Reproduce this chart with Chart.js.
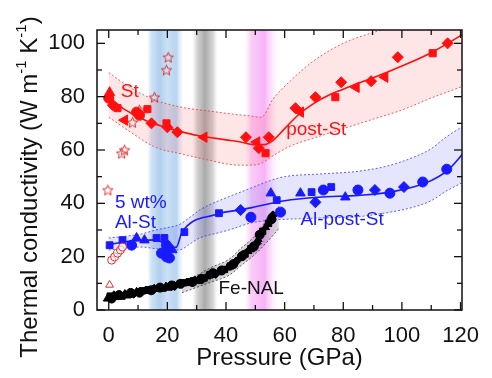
<!DOCTYPE html>
<html><head><meta charset="utf-8">
<script src="https://cdn.jsdelivr.net/npm/chart.js@4.4.1/dist/chart.umd.min.js"></script>
<style>html,body{margin:0;padding:0;background:#fff;}#wrap{width:492px;height:378px;}</style>
</head><body><div id="wrap"><canvas id="c" width="492" height="378"></canvas></div>
<script>
// ---------- axes ----------
const xMajorTicks=[0,20,40,60,80,100,120];
const xMinorTicks=[10,30,50,70,90,110];
const yMajorTicks=[0,20,40,60,80,100];
const yMinorTicks=[10,30,50,70,90];
const xRange=[-4,120.5];
const yRange=[0,105];

// ---------- vertical transition bands (center, half width in GPa) ----------
const bandCenters=[19.3,32.8,52];
const bandHalfWidths=[6.2,4.3,5.6];

// ---------- St / post-St (red) ----------
const redTriUp=[[0.3,81.5]];
const redCircle=[[0,79.4],[9.5,74.2],[10.5,73]];
const redSquare=[[3,75.7],[13.2,75.3],[19.7,70],[53.5,58.8],[77.3,79.8],[110.5,96.3]];
const redLeftTri=[[5.4,71.2],[32.5,64.8],[50.5,63],[65.4,74.2],[84.4,83.5],[94.2,87.3]];
const redDiamond=[[1.4,76.8],[14.6,70],[20,68.5],[23.4,66.7],[46.8,64.8],[51.2,60.7],[54.6,64.8],[63.7,75.7],[70.5,79.8],[79.3,85.4],[89.5,85.8],[98.6,94.8],[115.6,100]];
const redOpenStar=[[20.3,94.8],[19.7,90],[15.6,79.8],[10.5,75],[8.1,70.4],[4.4,58.8],[5.4,60],[-0.3,45]];
const redOpenCircle=[[1,18.7],[2,19.9],[3,21.3],[4,22.5],[4.7,23.6]];
const redOpenTri=[[0.3,9.4]];
const redFit=[[0,80],[5,75.5],[10,72.5],[15,70],[20,68.3],[25,66.8],[30,65.5],[35,64.6],[40,63.8],[45,63],[50,62],[53,62],[56,63.5],[60,68],[65,73.5],[70,77.5],[75,80.5],[80,82.8],[85,85],[90,87],[100,91.5],[110,96.5],[121,103.5]];
const redBandP=[0,8,16,25,35,42,48,52,56,62,70,80,90,100,110,121];
const redBandHi=[89,83,78.7,76,74.5,73.5,72.8,72.3,79,86,93.5,100,104,107,110,113];
const redBandLo=[72.3,66.3,61,58.5,56,54.5,54.3,55,57.8,61.5,64.5,68,71.5,75,79.5,84];

// ---------- Al-St / Al-post-St (blue) ----------
const blueSquare=[[0.3,24.3],[4.7,26.2],[16.3,27],[19,27],[25.8,29.2],[37.6,36.3],[57.3,41.2],[69.2,44.2],[75.9,46.1]];
const blueCircle=[[7.8,24.3],[19.7,24.3],[18,21.3],[19.7,19.9],[20.7,19.5],[48.5,34.8],[58.6,36.7],[73.2,45],[85,45],[95.9,43.8],[107.1,48],[115.3,52.8]];
const blueTri=[[9.5,27],[12.2,26.2],[21.7,22.5],[55.3,43.8],[65.4,43.8],[80.7,42.3]];
const blueDiamond=[[20,23],[45,37.5],[70.5,40.4],[90.8,45],[100.7,46.1]];
const blueFitSt=[[0,24.5],[5,25.5],[10,26],[16,26.3],[19,25],[23,23.5],[25,29.2],[37.6,36.3]];
const blueFitPost=[[37.6,36.3],[48.8,38.4],[60,41],[71.5,42.3],[85,43],[96,44.2],[108,47.6],[115.6,52.4],[121,58.8]];
const blueBandP=[0,11,16,20.5,24,28,31,37.6,41,48,55,60,72,85,95,104,110,115,121];
const blueBandHi=[27,28.5,30,31,32,35,37.5,41,42.5,45.5,48.5,50,51,52,54,57.3,60.5,64.8,69];
const blueBandLo=[22.5,23.6,23,22.5,22.5,25,27,29,30,32.5,33.7,34,34.5,35,36.5,38.6,41,44.5,48];

// ---------- Fe-NAL (black) ----------
const feNAL=[[-0.5,4.2],[0.5,5.2],[1,4.3],[1.8,5.5],[2.5,4.8],[3.5,5.6],[4.5,5.2],[5.5,6],[6.5,5.7],[7.5,6.4],[8.5,6.1],[9.5,6.8],[10.5,6.5],[11.5,7.2],[12.5,7],[13.5,7.6],[14.5,7.4],[15.5,8],[16.5,7.8],[17.5,8.4],[18.5,8.2],[19.5,8.8],[20.5,8.6],[21.5,9.2],[22.5,9],[23.5,9.6],[24.5,9.8],[25.5,10.2],[26.5,10],[27.5,10.6],[28.5,10.5],[29.5,11],[30.5,10.8],[31.5,11.6],[32.5,12],[33.5,12.5],[34.5,13.2],[35.5,13.8],[36.5,13.5],[37.5,14.2],[38.5,14.8],[39.5,15.2],[40.5,15.8],[41.5,16.5],[42.5,17.2],[43.5,18.2],[44.5,19.5],[45.5,20.2],[46.5,21],[47.5,22],[48.5,23],[49.5,23.8],[50.5,25],[51,26.5],[51.5,28.2],[52.5,29.5],[53.5,31],[54.5,32.5],[55.5,34],[56,35.5]];
const feFit=[[44,20.5],[50,25.5],[54,31],[57.5,36]];
const feBandP=[25,30,35,41,45,50,54,58];
const feBandHi=[11,13,16,19,23,28,34,39];
const feBandLo=[6.5,8.5,10.5,13,16.5,21,25.5,30.5];

// ---------- text labels (data coordinates) ----------
const labelTexts=['St','post-St','5 wt%','Al-St','Al-post-St','Fe-NAL'];
const labelPos=[[7.2,81.7],[70.8,67.5],[2.1,40.1],[2.1,32.6],[79.6,33.7],[48.6,7.9]];

// ---------- helpers ----------
const pts=a=>a.map(([x,y])=>({x,y}));
const band=(P,V)=>P.map((p,i)=>({x:p,y:V[i]}));
const RED='#ff1010', BLUE='#1a1aff';
const FONT='"Liberation Sans", Arial, sans-serif';
const labelColors=[RED,RED,BLUE,BLUE,BLUE,'#111'];
const labelAlign=['center','center','left','left','center','center'];

function starImg(r,color){
  const s=Math.ceil(r*2+4);const c=document.createElement('canvas');c.width=s;c.height=s;
  const g=c.getContext('2d');g.translate(s/2,s/2+0.5);g.beginPath();
  for(let i=0;i<10;i++){const rr=i%2?r*0.45:r;const a=-Math.PI/2+i*Math.PI/5;g.lineTo(rr*Math.cos(a),rr*Math.sin(a));}
  g.closePath();g.strokeStyle=color;g.lineWidth=1;g.stroke();return c;
}
const STAR=starImg(5.5,'#e03030');

function scat(data,color,style,radius,extra){
  return Object.assign({type:'scatter',data:pts(data),pointStyle:style,pointRadius:radius,
    backgroundColor:color,borderColor:color,borderWidth:1,showLine:false,order:1},extra||{});
}
function fitLine(data,color,tension){
  return {type:'line',data:pts(data),borderColor:color,borderWidth:1.6,pointRadius:0,fill:false,
    tension:tension,cubicInterpolationMode:'monotone',order:4};
}
function bandPair(P,hi,lo,border,fillCol){
  return [
    {type:'line',data:band(P,hi),borderColor:border,borderWidth:1,borderDash:[2,2],pointRadius:0,
      tension:0.4,cubicInterpolationMode:'monotone',fill:{target:'+1'},backgroundColor:fillCol,order:9},
    {type:'line',data:band(P,lo),borderColor:border,borderWidth:1,borderDash:[2,2],pointRadius:0,
      tension:0.4,cubicInterpolationMode:'monotone',fill:false,order:9}
  ];
}

const bandStops=[
  [[0,'rgba(190,215,240,0)'],[0.12,'rgba(175,207,238,0.6)'],[0.35,'rgba(155,195,233,0.8)'],[0.55,'rgba(185,214,242,0.75)'],[0.8,'rgba(160,198,235,0.75)'],[1,'rgba(190,215,240,0)']],
  [[0,'rgba(205,205,205,0)'],[0.2,'rgba(190,190,190,0.7)'],[0.5,'rgba(160,160,160,0.9)'],[0.8,'rgba(190,190,190,0.7)'],[1,'rgba(205,205,205,0)']],
  [[0,'rgba(250,195,248,0)'],[0.2,'rgba(246,170,243,0.6)'],[0.6,'rgba(242,150,242,0.72)'],[1,'rgba(250,195,248,0)']]
];

const vbands={id:'vbands',beforeDatasetsDraw(chart){
  const {ctx,chartArea:a,scales:{x}}=chart;ctx.save();
  bandCenters.forEach((c,i)=>{
    const l=x.getPixelForValue(c-bandHalfWidths[i]),r=x.getPixelForValue(c+bandHalfWidths[i]);
    const g=ctx.createLinearGradient(l,0,r,0);bandStops[i].forEach(([o,col])=>g.addColorStop(o,col));
    ctx.fillStyle=g;ctx.fillRect(l,a.top,r-l,a.bottom-a.top);
  });
  ctx.restore();
}};

const deco={id:'deco',
  afterDatasetsDraw(chart){
    const {ctx,scales:{x,y}}=chart;ctx.save();ctx.font='19px '+FONT;ctx.textBaseline='middle';
    labelTexts.forEach((t,i)=>{ctx.fillStyle=labelColors[i];ctx.textAlign=labelAlign[i];
      ctx.fillText(t,x.getPixelForValue(labelPos[i][0]),y.getPixelForValue(labelPos[i][1]));});
    ctx.restore();
  },
  afterDraw(chart){
    const {ctx,chartArea:a,scales:{x,y}}=chart;ctx.save();
    ctx.strokeStyle='#111';ctx.lineWidth=1.5;ctx.strokeRect(a.left,a.top,a.right-a.left,a.bottom-a.top);
    ctx.lineWidth=1.3;
    const ln=(x1,y1,x2,y2)=>{ctx.beginPath();ctx.moveTo(x1,y1);ctx.lineTo(x2,y2);ctx.stroke();};
    const xt=(v,L)=>{const p=x.getPixelForValue(v);ln(p,a.bottom,p,a.bottom-L);ln(p,a.top,p,a.top+L);};
    const yt=(v,L)=>{const p=y.getPixelForValue(v);ln(a.left,p,a.left+L,p);ln(a.right,p,a.right-L,p);};
    xMajorTicks.forEach(v=>xt(v,8));xMinorTicks.forEach(v=>xt(v,5));
    yMajorTicks.forEach(v=>yt(v,8));yMinorTicks.forEach(v=>yt(v,5));
    // axis titles
    ctx.fillStyle='#111';ctx.textBaseline='middle';
    ctx.font='24px '+FONT;ctx.textAlign='center';
    ctx.fillText('Pressure (GPa)',(a.left+a.right)/2,358);
    // y title with superscripts
    const parts=[['Thermal conductivity (W m',24,0],['-1',15,-8],[' K',24,0],['-1',15,-8],[')',24,0]];
    let total=0;parts.forEach(p=>{ctx.font=p[1]+'px '+FONT;p.push(ctx.measureText(p[0]).width);total+=p[3];});
    ctx.translate(30,187);ctx.rotate(-Math.PI/2);ctx.textAlign='left';
    let cx=-total/2;
    parts.forEach(p=>{ctx.font=p[1]+'px '+FONT;ctx.fillText(p[0],cx,p[2]);cx+=p[3];});
    ctx.restore();
  }
};

const feShapes=['triangle','rect','circle','rectRot','triangle','circle','rect'];

const datasets=[
  // markers (drawn on top)
  scat(redTriUp,RED,'triangle',6),
  scat(redCircle,RED,'circle',5),
  scat(redSquare,RED,'rect',5),
  scat(redLeftTri,RED,'triangle',6,{rotation:-90}),
  scat(redDiamond,RED,'rectRot',5.5),
  scat(redOpenStar,RED,STAR,5),
  scat(redOpenCircle,'#e03030','circle',4,{backgroundColor:'rgba(255,255,255,0.6)'}),
  scat(redOpenTri,'#e03030','triangle',4.5,{backgroundColor:'rgba(255,255,255,0)'}),
  scat(blueSquare,BLUE,'rect',4.8),
  scat(blueCircle,BLUE,'circle',5),
  scat(blueTri,BLUE,'triangle',5.5),
  scat(blueDiamond,BLUE,'rectRot',5.5),
  scat(feNAL,'#000',ctx=>feShapes[ctx.dataIndex%feShapes.length],4.5),
  // fit lines
  fitLine(redFit,RED,0.4),
  fitLine(blueFitSt,BLUE,0),
  fitLine(blueFitPost,BLUE,0.4),
  fitLine(feFit,'#000',0.3),
  // uncertainty bands
  ...bandPair(redBandP,redBandHi,redBandLo,'rgba(230,60,60,0.8)','rgba(255,60,60,0.13)'),
  ...bandPair(blueBandP,blueBandHi,blueBandLo,'rgba(60,60,230,0.8)','rgba(70,70,240,0.14)'),
  ...bandPair(feBandP,feBandHi,feBandLo,'rgba(60,60,60,0.8)','rgba(70,40,90,0.2)')
];

new Chart(document.getElementById('c'),{
  type:'scatter',
  data:{datasets},
  options:{
    responsive:false,animation:false,devicePixelRatio:1,
    layout:{padding:{top:30,right:27,left:0,bottom:0}},
    plugins:{legend:{display:false},tooltip:{enabled:false}},
    scales:{
      x:{type:'linear',min:xRange[0],max:xRange[1],
        grid:{display:false,drawTicks:false},border:{display:false},
        afterBuildTicks:s=>{s.ticks=xMajorTicks.map(v=>({value:v}));},
        afterFit:s=>{s.height=68;},
        ticks:{padding:13,color:'#111',font:{family:FONT,size:22},maxRotation:0,autoSkip:false}},
      y:{type:'linear',min:yRange[0],max:yRange[1],
        grid:{display:false,drawTicks:false},border:{display:false},
        afterBuildTicks:s=>{s.ticks=yMajorTicks.map(v=>({value:v}));},
        afterFit:s=>{s.width=97;},
        ticks:{padding:12,color:'#111',font:{family:FONT,size:22},autoSkip:false}}
    }
  },
  plugins:[vbands,deco]
});
</script></body></html>
